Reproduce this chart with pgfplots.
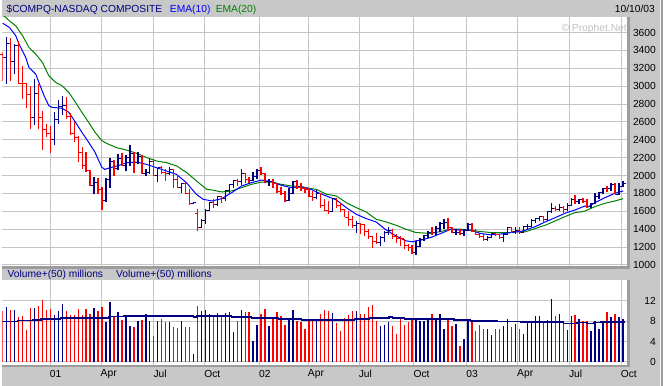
\documentclass[border=0pt]{standalone}
\usepackage{pgfplots}
\usepackage{pgfplotstable}
\usepackage{fontspec}
\setmainfont{Liberation Sans}
\pgfplotsset{compat=1.18}
\definecolor{bgc}{HTML}{C8C8C8}
\definecolor{gridc}{HTML}{C4C4C4}
\definecolor{edgec}{HTML}{9C9C9C}
\definecolor{navyc}{HTML}{000080}
\definecolor{redc}{HTML}{FF0000}
\definecolor{emablue}{HTML}{0000FF}
\definecolor{emagreen}{HTML}{008000}
\definecolor{wmark}{HTML}{C0C0C0}
\newcommand\lab{\fontsize{10.3}{12}\selectfont}
\pgfdeclareplotmark{otick}{\pgfpathmoveto{\pgfqpoint{-2.7pt}{0pt}}\pgfpathlineto{\pgfqpoint{0pt}{0pt}}\pgfusepathqstroke}
\pgfdeclareplotmark{ctick}{\pgfpathmoveto{\pgfqpoint{0pt}{0pt}}\pgfpathlineto{\pgfqpoint{2.7pt}{0pt}}\pgfusepathqstroke}

% k = week index (0 = week of 13 Oct 2000), o h l c = open high low close, v = volume (millions)
\pgfplotstableread{
k o h l c v
1 3316 3545 3025 3483 10.8
3 3278 3471 3136 3451 10.1
8 2645 3080 2567 2917 10.6
13 2407 2709 2337 2626 9.1
14 2626 2850 2579 2770 9.9
15 2770 2894 2679 2781 11.4
23 1890 1984 1798 1928 10.5
26 1720 1972 1705 1961 7.9
27 1961 2200 1865 2163 11.7
29 2075 2237 2060 2192 9.7
31 2108 2230 2051 2199 8.8
32 2199 2337 2107 2252 7.1
34 2149 2263 2125 2215 8.1
36 2028 2077 1995 2035 9.4
37 2035 2188 2014 2161 8.1
39 2004 2088 1928 2085 8.1
42 2027 2100 2003 2066 7.8
45 1867 1921 1809 1916 8.1
48 1687 1705 1680 1695 1.6
50 1423 1519 1419 1499 9.9
51 1499 1631 1456 1605 10.1
52 1605 1710 1600 1703 9.4
54 1671 1775 1660 1768 9.6
56 1745 1840 1720 1828 9.6
57 1828 1910 1800 1898 9.7
58 1898 1945 1860 1941 5.8
60 1930 2070 1900 2021 10.2
63 1945 2040 1940 1987 4.2
64 1987 2077 1960 2059 7.3
67 1930 1960 1885 1937 7.1
72 1725 1865 1720 1802 8.4
73 1802 1939 1795 1929 10.2
79 1756 1839 1735 1796 8.4
83 1600 1754 1594 1741 9.6
89 1440 1493 1363 1463 9.9
95 1247 1326 1207 1306 7.1
96 1306 1382 1252 1361 7.3
97 1361 1426 1333 1380 7.9
104 1139 1270 1108 1210 8.6
105 1210 1300 1196 1287 8.1
106 1287 1340 1270 1331 8.1
107 1331 1380 1300 1360 8.3
109 1359 1437 1333 1411 8.3
110 1411 1482 1371 1468 9.4
111 1468 1512 1400 1479 6.4
114 1362 1400 1340 1363 7.5
116 1348 1400 1325 1388 4.5
117 1388 1475 1380 1448 8.1
122 1282 1320 1270 1310 6.4
123 1310 1360 1300 1349 5.2
126 1305 1345 1253 1340 7.1
127 1340 1430 1335 1421 8.4
129 1369 1430 1345 1383 7.5
131 1358 1430 1355 1425 5.5
132 1425 1456 1400 1434 7.8
133 1434 1519 1430 1502 7.8
134 1502 1530 1475 1520 9.0
135 1520 1549 1493 1538 9.0
137 1510 1605 1493 1595 8.2
138 1595 1698 1586 1627 12.3
140 1626 1679 1605 1645 9.4
142 1625 1698 1605 1664 6.2
143 1664 1753 1660 1733 9.0
145 1708 1742 1679 1731 8.4
148 1652 1698 1642 1690 6.0
149 1690 1809 1685 1765 8.1
150 1765 1817 1742 1810 6.4
151 1810 1865 1791 1858 7.8
153 1855 1913 1828 1905 8.8
155 1792 1921 1785 1880 8.8
156 1880 1939 1875 1915 8.4
}\upbars

\pgfplotstableread{
k o h l c v
0 3360 3385 3062 3316 9.9
2 3483 3534 3062 3278 10.1
4 3451 3508 3025 3028 8.8
5 3028 3229 2857 3027 8.9
6 3027 3035 2753 2904 6.2
7 2904 3006 2523 2645 10.6
9 2917 3024 2523 2653 11.0
10 2653 2727 2281 2517 12.1
11 2517 2579 2430 2471 10.1
12 2471 2560 2255 2407 10.4
16 2781 2876 2634 2660 9.9
17 2660 2698 2456 2470 9.1
18 2470 2597 2381 2425 9.1
19 2425 2448 2151 2262 10.3
20 2262 2318 2077 2117 9.1
21 2117 2263 2040 2052 10.4
22 2052 2060 1884 1890 9.4
24 1928 1977 1798 1840 9.9
25 1840 1872 1620 1720 10.7
28 2163 2170 1995 2075 9.0
30 2192 2248 2107 2108 8.3
33 2252 2260 2032 2149 6.8
35 2215 2225 2014 2028 8.3
38 2161 2188 1995 2004 5.1
40 2085 2107 2014 2029 8.4
41 2029 2077 1939 2027 7.8
43 2066 2075 1865 1956 6.8
44 1956 2003 1865 1867 6.6
46 1916 1921 1791 1805 6.8
47 1805 1846 1668 1687 6.8
49 1580 1631 1382 1423 11.0
53 1703 1740 1640 1671 8.9
55 1768 1770 1690 1745 8.8
59 1941 1965 1880 1930 8.1
61 2021 2025 1920 1953 9.7
62 1953 1980 1920 1945 9.7
65 2059 2098 2010 2022 9.4
66 2022 2030 1920 1930 10.4
68 1937 1965 1865 1911 8.8
69 1911 1921 1800 1818 9.7
70 1818 1876 1780 1805 9.0
71 1805 1828 1700 1725 7.3
74 1929 1950 1850 1868 8.1
75 1868 1921 1828 1852 7.8
76 1852 1876 1810 1845 6.4
77 1845 1865 1760 1770 8.3
78 1770 1828 1716 1756 8.4
80 1796 1800 1642 1663 9.4
81 1663 1742 1605 1613 10.1
82 1613 1716 1568 1600 9.9
84 1741 1750 1642 1661 7.7
85 1661 1698 1594 1615 6.0
86 1615 1623 1531 1535 8.6
87 1535 1605 1438 1504 9.2
88 1504 1549 1419 1440 9.9
90 1463 1475 1345 1448 9.4
91 1448 1456 1326 1374 9.4
92 1374 1400 1289 1319 10.7
93 1319 1326 1192 1262 11.2
94 1262 1363 1233 1247 8.1
98 1380 1400 1289 1315 7.1
99 1315 1345 1244 1295 5.5
100 1295 1326 1207 1291 8.6
101 1291 1295 1177 1221 7.3
102 1221 1233 1159 1199 7.9
103 1199 1222 1120 1139 8.3
108 1360 1420 1330 1359 9.4
112 1479 1530 1382 1422 8.3
113 1422 1430 1355 1362 7.1
115 1363 1400 1330 1348 3.2
118 1448 1466 1370 1376 7.8
119 1376 1400 1335 1342 6.0
120 1342 1350 1300 1320 7.3
121 1320 1345 1270 1282 6.4
124 1349 1360 1320 1337 6.4
125 1337 1350 1290 1305 6.4
128 1421 1425 1360 1369 6.8
130 1383 1420 1350 1358 6.5
136 1538 1549 1467 1510 8.1
139 1627 1660 1605 1626 9.0
141 1645 1660 1586 1625 7.8
144 1733 1780 1679 1708 9.2
146 1731 1753 1698 1715 8.1
147 1715 1735 1642 1652 8.1
152 1858 1884 1817 1855 9.7
154 1905 1921 1791 1792 9.4
}\downbars

\pgfplotsset{
  panel/.style={
    scale only axis, width=627pt,
    xmin=-0.075, xmax=157.07,
    axis line style={draw=none},
    major tick length=0pt,
    grid=major, grid style={gridc, line width=1pt},
    axis background/.style={fill=white},
    xtick={11.95,24.74,38.02,50.80,64.59,76.87,89.65,103.43,116.71,129.50,142.53,155.56},
    yticklabel pos=right,
    yticklabel style={anchor=east, inner sep=0pt, xshift=29pt, font=\lab},
    /pgf/number format/assume math mode=true,
    /pgf/number format/1000 sep={},
  },
  hl/.style 2 args={draw=none, mark=none, forget plot,
    error bars/.cd, y dir=plus, y explicit, error mark=none,
    error bar style={draw=#1, line width=#2}},
}

\begin{document}
\begin{tikzpicture}
\fill[bgc] (0pt,0pt) rectangle (663pt,387pt);
% frame edges of the two panels (decoration)
\fill[edgec] (627pt,117pt) rectangle (630pt,370pt);
\fill[edgec] (0pt,117pt) rectangle (630pt,120pt);
\fill[edgec] (627pt,19pt) rectangle (630pt,106pt);
\fill[edgec] (0pt,19pt) rectangle (630pt,21pt);
\fill[white!85!bgc] (660pt,0pt) rectangle (661pt,387pt);
\fill[edgec] (661pt,0pt) rectangle (663pt,387pt);

% ---------------- price panel ----------------
\begin{axis}[panel, at={(0pt,120pt)}, anchor=south west, height=250pt,
  ymin=988, ymax=3775,
  ytick={1000,1200,1400,1600,1800,2000,2200,2400,2600,2800,3000,3200,3400,3600},
  xticklabels={}]
\addplot[emagreen, line width=1pt, mark=none] coordinates {
(0,3800) (1.7,3731) (3.3,3675) (5,3564) (6.6,3434) (8.3,3359) (10,3266) (11.6,3118)
(13.3,3043) (14.9,3006) (16.6,2932) (18.3,2820) (19.9,2709) (21.6,2597) (23.2,2486)
(24.9,2393) (26.2,2359) (28.7,2311) (31.2,2285) (33.8,2248) (36.3,2200) (38.8,2162)
(41.3,2144) (43.8,2107) (46.3,2032) (48.8,1939) (51.3,1846) (52.6,1839) (55.1,1817)
(57.6,1828) (60.1,1865) (62.6,1902) (65.1,1928) (67.6,1928) (70.1,1902) (72.6,1884)
(75.1,1876) (77.6,1854) (78.9,1846) (81.4,1791) (83.9,1772) (86.4,1698) (88.9,1642)
(91.4,1594) (93.9,1512) (96.4,1482) (98.9,1445) (101.4,1400) (103.9,1363) (106.4,1356)
(107.7,1352) (110.2,1374) (112.7,1400) (115.2,1400) (117.7,1389) (120.2,1374)
(122.7,1363) (125.2,1363) (127.7,1363) (130.2,1374) (131.5,1371) (134,1408)
(136.5,1445) (139,1493) (141.5,1542) (144,1586) (145.5,1594) (146.5,1605) (149,1653)
(151.5,1690) (154,1716) (156.1,1742)};
\addplot[emablue, line width=1pt, mark=none] coordinates {
(0,3705) (1.7,3657) (3.3,3564) (4.1,3471) (5.8,3322) (6.6,3210) (8.3,3136) (9.1,3043)
(10.4,2895) (11.6,2783) (12.4,2764) (14.9,2753) (16.6,2709) (18.3,2597) (19.9,2486)
(21.6,2374) (23.2,2263) (24.9,2095) (25.7,2069) (26.2,2077) (28.7,2107) (31.2,2144)
(33.7,2151) (36.2,2125) (38.7,2088) (41.2,2051) (43.7,2014) (46.2,1921) (48.7,1791)
(50.4,1735) (52.6,1716) (55.1,1742) (57.6,1809) (60.1,1884) (62.6,1921) (65.1,1950)
(67.6,1932) (70.1,1891) (72.6,1865) (75.1,1876) (77.6,1846) (78.9,1817) (81.4,1772)
(83.9,1728) (86.4,1642) (88.9,1568) (91.4,1519) (93.9,1482) (96.4,1393) (98.9,1326)
(101.4,1270) (103.1,1259) (103.9,1270) (105.2,1278) (107.7,1308) (110.2,1352)
(112.7,1400) (115.2,1389) (117.7,1389) (120.2,1352) (122.7,1337) (125.2,1345)
(127.7,1363) (130.2,1374) (131.5,1389) (134,1430) (136.5,1482) (139,1530)
(141.5,1579) (144,1616) (146.5,1660) (147.4,1652) (149,1698) (151.5,1753)
(154,1802) (156.1,1828)};
% OHLC bars
\addplot[hl={redc}{1.4pt}] table[x=k, y=l, y error plus expr=\thisrow{h}-\thisrow{l}] {\downbars};
\addplot[hl={navyc}{1.4pt}] table[x=k, y=l, y error plus expr=\thisrow{h}-\thisrow{l}] {\upbars};
\addplot[only marks, mark=otick, redc, line width=1pt] table[x=k, y=o] {\downbars};
\addplot[only marks, mark=ctick, redc, line width=1pt] table[x=k, y=c] {\downbars};
\addplot[only marks, mark=otick, navyc, line width=1pt] table[x=k, y=o] {\upbars};
\addplot[only marks, mark=ctick, navyc, line width=1pt] table[x=k, y=c] {\upbars};
\end{axis}

% ---------------- volume panel ----------------
\begin{axis}[panel, at={(0pt,21pt)}, anchor=south west, height=85pt,
  ymin=-0.53, ymax=16.04, ytick={0,4,8,12},
  xticklabels={01,Apr,Jul,Oct,02,Apr,Jul,Oct,03,Apr,Jul,Oct},
  xticklabel style={anchor=north west, inner sep=0pt, yshift=-5pt, xshift=-0.5pt, font=\lab}]
\addplot[ycomb, draw=redc, line width=1.4pt, mark=none] table[x=k, y=v] {\downbars};
\addplot[ycomb, draw=navyc, line width=1.4pt, mark=none] table[x=k, y=v] {\upbars};
\addplot[const plot, navyc, line width=1.4pt, mark=none] coordinates {
(-0.5,7.9) (3.8,8.1) (7.5,8.2) (9.6,8.4) (14.6,8.6) (26.7,8.9) (30.5,9.0) (48,8.8)
(48.9,9.0) (57.6,8.8) (62.6,8.6) (69.3,8.4) (75.2,8.2) (88.5,8.4) (92.2,8.6) (97.2,8.8)
(98.1,8.6) (101,8.4) (113.5,8.2) (117.7,8.0) (124.4,7.9) (130.3,7.8) (141.1,7.5)
(144.5,7.7) (147,7.5) (148.6,7.7) (150.3,7.8) (156.6,7.8)};
\end{axis}

% ---------------- header texts ----------------
\node[anchor=base west, inner sep=0pt, font=\lab, text=navyc] at (4pt,374pt) {\$COMPQ-NASDAQ COMPOSITE};
\node[anchor=base west, inner sep=0pt, font=\lab, text=emablue] at (168pt,374pt) {EMA(10)};
\node[anchor=base west, inner sep=0pt, font=\lab, text=emagreen] at (214pt,374pt) {EMA(20)};
\node[anchor=base east, inner sep=0pt, font=\lab, text=black] at (655pt,374pt) {10/10/03};
\node[anchor=base west, inner sep=0pt, font=\lab, text=wmark] at (561pt,355pt) {© Prophet.Net};
\node[anchor=base west, inner sep=0pt, font=\lab, text=navyc] at (5pt,108pt) {Volume+(50) millions};
\node[anchor=base west, inner sep=0pt, font=\lab, text=navyc] at (114pt,108pt) {Volume+(50) millions};
\end{tikzpicture}
\end{document}
